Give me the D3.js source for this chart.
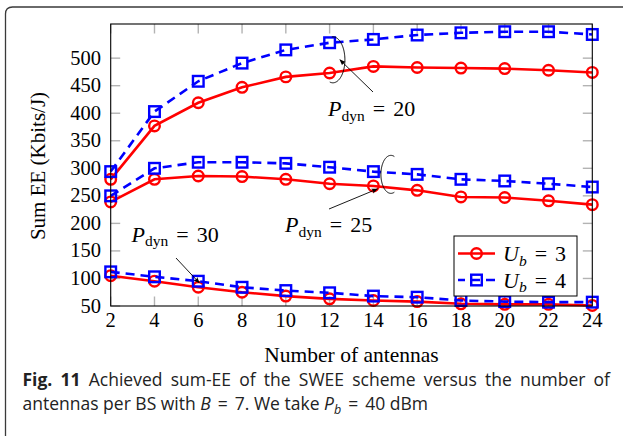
<!DOCTYPE html>
<html>
<head>
<meta charset="utf-8">
<script src="https://cdn.jsdelivr.net/npm/d3@7"></script>
<style>
  html, body { margin: 0; padding: 0; background: #fff; }
  svg { display: block; }
</style>
</head>
<body>
<svg id="chart" width="623" height="438"></svg>
<script>
'use strict';

// values (sum-EE in Kbits/J)
var antennas    = [2, 4, 6, 8, 10, 12, 14, 16, 18, 20, 22, 24];
var eeUb3Pdyn20 = [280, 377, 419, 447, 466, 473, 485, 483, 482, 481, 478, 474];
var eeUb4Pdyn20 = [294, 403, 458, 491, 515, 528, 534, 542, 546, 548, 548, 543];
var eeUb3Pdyn25 = [239, 280, 286, 285, 280, 272, 268, 260, 248, 247, 241, 234];
var eeUb4Pdyn25 = [250, 300, 311, 311, 309, 302, 294, 289, 280, 277, 272, 266];
var eeUb3Pdyn30 = [105, 95, 84, 75, 68, 63, 60, 58, 54, 53, 53, 51];
var eeUb4Pdyn30 = [112, 103, 95, 84, 78, 74, 68, 66, 60, 58, 57, 57];
var yTicks      = [50, 100, 150, 200, 250, 300, 350, 400, 450, 500];
var legendLabels = ['3', '4'];

var fig = fig || {};
fig.const = {};
fig.util  = {};

fig.const.LEFT   = 110.7;
fig.const.RIGHT  = 592.3;
fig.const.TOP    = 24;
fig.const.BOTTOM = 306;
fig.const.RED    = '#ff0000';
fig.const.BLUE   = '#0000ff';
fig.const.SERIF  = '"Liberation Serif", "DejaVu Serif", serif';

var svg = d3.select('#chart');

var x = d3.scaleLinear().domain([2, 24]).range([fig.const.LEFT, fig.const.RIGHT]);
var y = d3.scaleLinear().domain([50, 562]).range([fig.const.BOTTOM, fig.const.TOP]);

// frame of the figure box (open on the right and bottom)
svg.append('path')
  .attr('d', 'M5.5,436 L5.5,14 Q5.5,7 12.5,7 L623,7')
  .style('fill', 'none')
  .style('stroke', '#3a3a3a')
  .style('stroke-width', 1.3);

// grey inner tick marks on all four sides
var tickLen = 9.5;
var ticks = svg.append('g').style('stroke', '#b3b3b3').style('stroke-width', 1.4);
antennas.forEach(function(a) {
  ticks.append('line').attr('x1', x(a)).attr('x2', x(a))
    .attr('y1', fig.const.BOTTOM).attr('y2', fig.const.BOTTOM - tickLen);
  ticks.append('line').attr('x1', x(a)).attr('x2', x(a))
    .attr('y1', fig.const.TOP).attr('y2', fig.const.TOP + tickLen);
});
yTicks.forEach(function(t) {
  ticks.append('line').attr('y1', y(t)).attr('y2', y(t))
    .attr('x1', fig.const.LEFT).attr('x2', fig.const.LEFT + tickLen);
  ticks.append('line').attr('y1', y(t)).attr('y2', y(t))
    .attr('x1', fig.const.RIGHT).attr('x2', fig.const.RIGHT - tickLen);
});

// tick labels
svg.append('g').selectAll('text').data(antennas).enter().append('text')
  .attr('x', function(d) { return x(d); })
  .attr('y', 327)
  .style('text-anchor', 'middle')
  .style('font-family', fig.const.SERIF)
  .style('font-size', '20.5px')
  .text(function(d) { return d; });

svg.append('g').selectAll('text').data(yTicks).enter().append('text')
  .attr('x', 101)
  .attr('y', function(d) { return y(d) + 6.5; })
  .style('text-anchor', 'end')
  .style('font-family', fig.const.SERIF)
  .style('font-size', '20.5px')
  .text(function(d) { return d; });

// axis titles
svg.append('text')
  .attr('x', 351.5).attr('y', 362)
  .style('text-anchor', 'middle')
  .style('font-family', fig.const.SERIF)
  .style('font-size', '21.5px')
  .text('Number of antennas');

svg.append('text')
  .attr('transform', 'translate(45,166) rotate(-90)')
  .style('text-anchor', 'middle')
  .style('font-family', fig.const.SERIF)
  .style('font-size', '21px')
  .text('Sum EE (Kbits/J)');

// data series
fig.util.line = d3.line()
  .x(function(d, i) { return x(antennas[i]); })
  .y(function(d) { return y(d); });

fig.util.drawSeries = function(values, color, dashed, marker) {
  var g = svg.append('g');
  g.append('path')
    .attr('d', fig.util.line(values))
    .style('fill', 'none')
    .style('stroke', color)
    .style('stroke-width', 2.6)
    .style('stroke-dasharray', dashed ? '9,6' : null);
  values.forEach(function(v, i) {
    fig.util.drawMarker(g, x(antennas[i]), y(v), color, marker);
  });
};

fig.util.drawMarker = function(g, cx, cy, color, marker) {
  if (marker === 'circle') {
    g.append('circle').attr('cx', cx).attr('cy', cy).attr('r', 5.3)
      .style('fill', 'none').style('stroke', color).style('stroke-width', 2.4);
  } else {
    g.append('rect').attr('x', cx - 5.3).attr('y', cy - 5.3)
      .attr('width', 10.6).attr('height', 10.6)
      .style('fill', 'none').style('stroke', color).style('stroke-width', 2.4);
  }
};

fig.util.drawSeries(eeUb3Pdyn20, fig.const.RED, false, 'circle');
fig.util.drawSeries(eeUb4Pdyn20, fig.const.BLUE, true, 'square');
fig.util.drawSeries(eeUb3Pdyn25, fig.const.RED, false, 'circle');
fig.util.drawSeries(eeUb4Pdyn25, fig.const.BLUE, true, 'square');
fig.util.drawSeries(eeUb3Pdyn30, fig.const.RED, false, 'circle');
fig.util.drawSeries(eeUb4Pdyn30, fig.const.BLUE, true, 'square');

// plot box
svg.append('rect')
  .attr('x', fig.const.LEFT).attr('y', fig.const.TOP)
  .attr('width', fig.const.RIGHT - fig.const.LEFT)
  .attr('height', fig.const.BOTTOM - fig.const.TOP)
  .style('fill', 'none').style('stroke', '#000').style('stroke-width', 1.1);

// annotations
svg.append('defs').append('marker')
  .attr('id', 'arrow').attr('viewBox', '0 0 10 10')
  .attr('refX', 9).attr('refY', 5)
  .attr('markerWidth', 7).attr('markerHeight', 7)
  .attr('orient', 'auto')
  .append('path').attr('d', 'M0,1 L10,5 L0,9 Q3,5 0,1 Z').style('fill', '#000');

fig.util.arc = function(cx, cy, rx, ry, a0, a1) {
  var pts = d3.range(a0, a1 + 0.5, 2).map(function(a) {
    var r = a * Math.PI / 180;
    return [cx + rx * Math.cos(r), cy + ry * Math.sin(r)];
  });
  return d3.line()(pts);
};

// "P_dyn = value" or "U_b = value" in TeX-like spacing
fig.util.mathLabel = function(parent, px, py, main, sub, subItalic, rest) {
  var t = parent.append('text').attr('x', px).attr('y', py)
    .style('font-family', fig.const.SERIF).style('font-size', '22px');
  t.append('tspan').style('font-style', 'italic').text(main);
  t.append('tspan').attr('dy', 4.5).style('font-size', '15.5px')
    .style('font-style', subItalic ? 'italic' : null).text(sub);
  t.append('tspan').attr('dy', -4.5).attr('dx', 8).text('=');
  t.append('tspan').attr('dx', 8).text(rest);
  return t;
};

fig.util.pointer = function(x1, y1, x2, y2) {
  svg.append('line').attr('x1', x1).attr('y1', y1).attr('x2', x2).attr('y2', y2)
    .style('stroke', '#000').style('stroke-width', 0.9)
    .attr('marker-end', 'url(#arrow)');
};

var ann = svg.append('g').style('fill', 'none').style('stroke', '#000').style('stroke-width', 1);
ann.append('path').attr('d', fig.util.arc(x(12.15), y(497), 12, 23, -95, 105));
ann.append('path').attr('d', fig.util.arc(x(14.8), y(289), 10, 19, 70, 290));

fig.util.pointer(373, 92, x(12.15) + 7, y(497));
fig.util.mathLabel(svg, 328, 116, 'P', 'dyn', false, '20');

fig.util.pointer(329, 209, x(14) + 4, y(268) + 3);
fig.util.mathLabel(svg, 285, 232, 'P', 'dyn', false, '25');

fig.util.pointer(176, 258, x(6) + 1, y(92));
fig.util.mathLabel(svg, 131.5, 241.5, 'P', 'dyn', false, '30');

// legend
var legend = svg.append('g');
legend.append('rect')
  .attr('x', 454).attr('y', 236).attr('width', 123).attr('height', 60)
  .style('fill', '#fff').style('stroke', '#000').style('stroke-width', 1);

[[fig.const.RED, false, 'circle'], [fig.const.BLUE, true, 'square']].forEach(function(s, i) {
  var ly = 253.5 + i * 26.5;
  legend.append('line').attr('x1', 458).attr('x2', 495).attr('y1', ly).attr('y2', ly)
    .style('stroke', s[0]).style('stroke-width', 2.6)
    .style('stroke-dasharray', s[1] ? '9,6' : null)
    .style('stroke-dashoffset', s[1] ? 2 : null);
  fig.util.drawMarker(legend, 476.5, ly, s[0], s[2]);
  fig.util.mathLabel(legend, 503, ly + 7.5, 'U', 'b', true, legendLabels[i]);
});

// caption (first line justified to the full width, like the journal layout)
var cap = svg.append('g')
  .style('font-family', '"Open Sans", "Noto Sans", sans-serif')
  .style('font-size', '17.5px')
  .style('fill', '#222');
var c1 = cap.append('text').attr('x', 22.5).attr('y', 386);
c1.append('tspan').style('font-weight', 'bold').text('Fig. 11');
c1.append('tspan').text(' Achieved sum-EE of the SWEE scheme versus the number of');
var c1Len = c1.node().getComputedTextLength();
c1.style('word-spacing', Math.max(0, (610 - 22.5 - c1Len) / 11) + 'px');

var c2 = cap.append('text').attr('x', 22.5).attr('y', 410);
c2.append('tspan').text('antennas per BS with ');
c2.append('tspan').style('font-style', 'italic').text('B');
c2.append('tspan').attr('dx', 7).text('=');
c2.append('tspan').attr('dx', 7).text('7. We take ');
c2.append('tspan').style('font-style', 'italic').text('P');
c2.append('tspan').attr('dy', 3.5).style('font-size', '12.5px').style('font-style', 'italic').text('b');
c2.append('tspan').attr('dy', -3.5).attr('dx', 7).text('=');
c2.append('tspan').attr('dx', 7).text('40 dBm');
</script>
</body>
</html>
